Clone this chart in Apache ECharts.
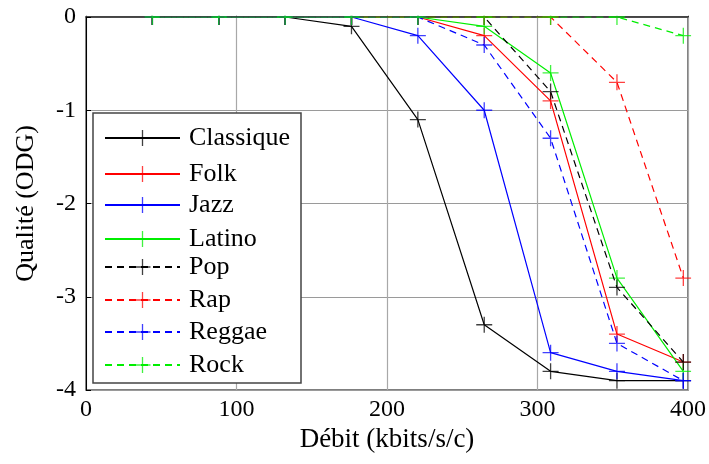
<!DOCTYPE html>
<html>
<head>
<meta charset="utf-8">
<script src="https://cdn.jsdelivr.net/npm/echarts@6/dist/echarts.min.js"></script>
<style>
  html, body { margin: 0; padding: 0; background: #fff; }
  #chart { width: 709px; height: 464px; }
</style>
</head>
<body>
<div id="chart"></div>
<script>
// Bit rates (kbits/s per channel) at which quality was measured
const bitrates = [44.1, 88.2, 132.3, 176.4, 220.5, 264.6, 308.7, 352.8, 396.9];

// ODG quality score per genre
const classique = [0, 0, 0, -0.1, -1.1, -3.3, -3.8, -3.9, -3.9];
const folk      = [0, 0, 0, 0, 0, -0.2, -0.9, -3.4, -3.7];
const jazz      = [0, 0, 0, 0, -0.2, -1.0, -3.6, -3.8, -3.9];
const latino    = [0, 0, 0, 0, 0, -0.1, -0.6, -2.8, -3.8];
const pop       = [0, 0, 0, 0, 0, 0, -0.8, -2.9, -3.7];
const rap       = [0, 0, 0, 0, 0, 0, 0, -0.7, -2.8];
const reggae    = [0, 0, 0, 0, 0, -0.3, -1.3, -3.5, -3.9];
const rock      = [0, 0, 0, 0, 0, 0, 0, 0, -0.2];

const genres = ['Classique', 'Folk', 'Jazz', 'Latino', 'Pop', 'Rap', 'Reggae', 'Rock'];
const values = [classique, folk, jazz, latino, pop, rap, reggae, rock];
const colors = ['#000000', '#ff0000', '#0000ff', '#00ee00', '#000000', '#ff0000', '#0000ff', '#00ee00'];
const dashed = [false, false, false, false, true, true, true, true];

// axis tick values
const xTicks = [0, 100, 200, 300, 400];
const yTicks = [-4, -3, -2, -1, 0];

// vertical centre of each legend row
const legendRows = [135, 171, 202, 236, 264, 297, 329, 362];

const SERIF = '"Liberation Serif", "DejaVu Serif", serif';
const plusSymbol = 'path://M7.35,0H8.65V16H7.35ZM0,7.35H16V8.65H0Z';

const chart = echarts.init(document.getElementById('chart'), null, { renderer: 'canvas' });

const series = genres.map((g, i) => ({
  name: g,
  type: 'line',
  data: bitrates.map((x, j) => [x, values[i][j]]),
  symbol: plusSymbol,
  symbolSize: 16,
  showSymbol: true,
  clip: true,
  lineStyle: {
    color: colors[i],
    width: 1.2,
    type: dashed[i] ? [7, 5] : 'solid'
  },
  itemStyle: { color: colors[i], opacity: 0.75 },
  emphasis: { disabled: true },
  z: 2 + i * 0.01
}));

const legends = genres.map((g, i) => ({
  data: [g],
  left: 104,
  top: legendRows[i] - 10,
  orient: 'vertical',
  padding: 0,
  itemWidth: 75,
  itemHeight: 20,
  selectedMode: false,
  textStyle: {
    fontFamily: SERIF,
    fontSize: 26,
    color: '#000',
    padding: [0, 0, 0, 4]
  },
  z: 6
}));

chart.setOption({
  animation: false,
  backgroundColor: '#ffffff',
  grid: {
    left: 86, right: 19, top: 17, bottom: 74,
    show: true,
    borderColor: '#555',
    borderWidth: 1.5,
    backgroundColor: 'transparent'
  },
  xAxis: {
    type: 'value',
    min: xTicks[0],
    max: xTicks[xTicks.length - 1],
    interval: 100,
    name: 'Débit (kbits/s/c)',
    nameLocation: 'middle',
    nameGap: 36,
    nameTextStyle: { fontFamily: SERIF, fontSize: 27, color: '#000' },
    axisLine: { show: true, lineStyle: { color: '#333', width: 1.5 } },
    axisTick: { show: true, inside: true, length: 5, lineStyle: { color: '#333' } },
    axisLabel: { fontFamily: SERIF, fontSize: 24, color: '#000', margin: 8 },
    splitLine: { show: true, lineStyle: { color: '#a8a8a8', width: 1.2 } }
  },
  yAxis: {
    type: 'value',
    min: yTicks[0],
    max: yTicks[yTicks.length - 1],
    interval: 1,
    name: 'Qualité (ODG)',
    nameLocation: 'middle',
    nameGap: 47,
    nameRotate: 90,
    nameTextStyle: { fontFamily: SERIF, fontSize: 26, color: '#000' },
    axisLine: { show: true, lineStyle: { color: '#000', width: 1 } },
    axisTick: { show: true, inside: true, length: 5, lineStyle: { color: '#000' } },
    axisLabel: { fontFamily: SERIF, fontSize: 24, color: '#000', margin: 10 },
    splitLine: { show: true, lineStyle: { color: '#9a9a9a', width: 1.2 } }
  },
  legend: legends,
  graphic: [
    // legend frame
    {
      type: 'rect',
      shape: { x: 93, y: 113, width: 208, height: 270 },
      style: { fill: '#fff', stroke: '#444', lineWidth: 1.5 },
      z: 5
    },
    // keep markers inside the plotting frame
    {
      type: 'rect',
      shape: { x: 80, y: 0, width: 629, height: 15.8 },
      style: { fill: '#fff' },
      z: 100
    },
    {
      type: 'rect',
      shape: { x: 691.2, y: 0, width: 18, height: 392 },
      style: { fill: '#fff' },
      z: 100
    }
  ],
  series: series
});
</script>
</body>
</html>
